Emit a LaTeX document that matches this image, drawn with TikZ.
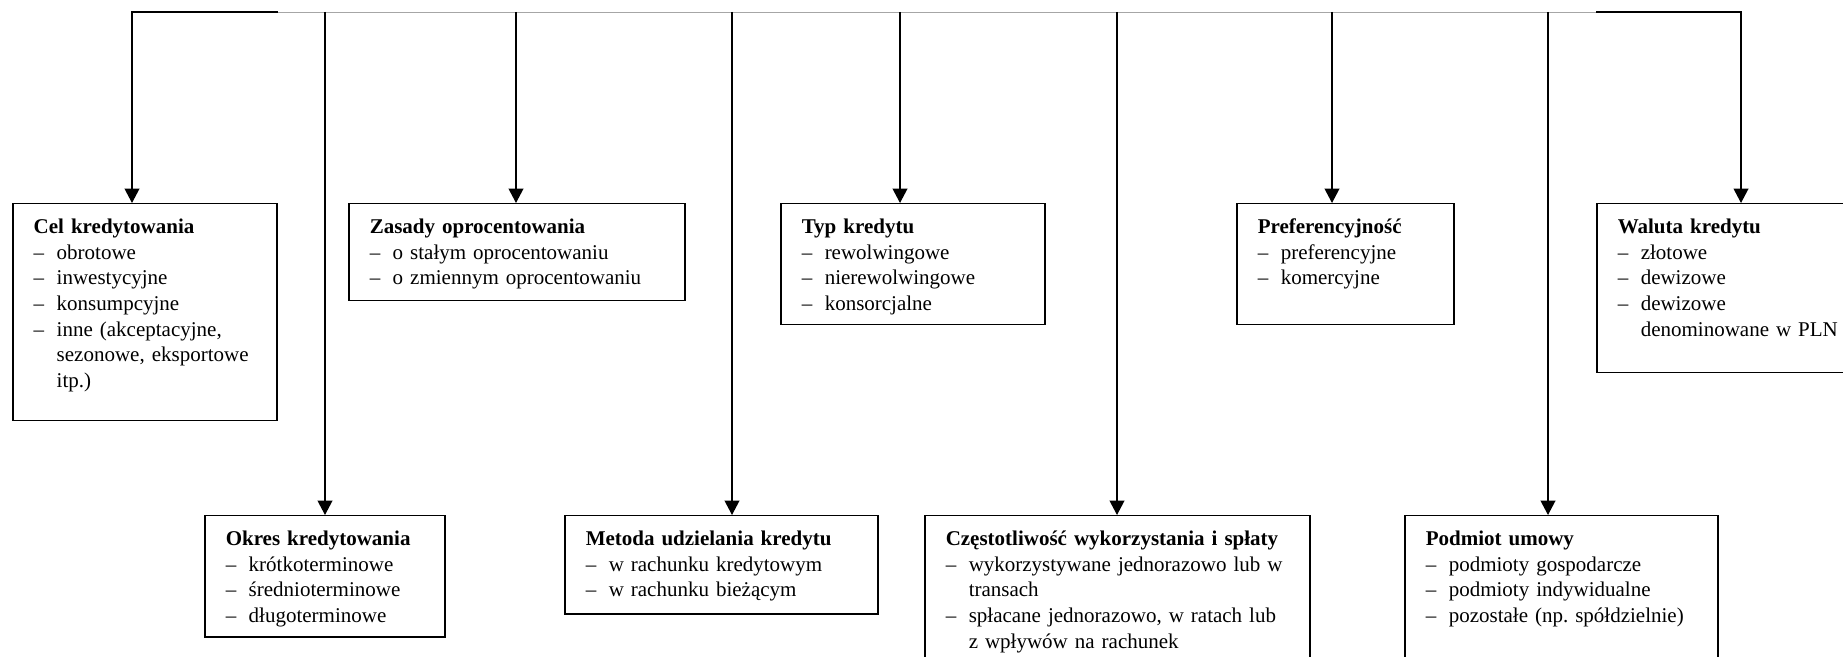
\documentclass[tikz,border=0pt]{standalone}
\usepackage{fontspec}
\setmainfont{Liberation Serif}
\usetikzlibrary{arrows.meta}
\frenchspacing

\newcommand{\itm}[1]{\makebox[11.5pt][l]{–}#1}
\newcommand{\cnt}[1]{\hspace*{11.5pt}#1}

\begin{document}
\begin{tikzpicture}[x=0.5pt, y=-0.5pt]
    \tikzset{
        block/.style 2 args = {rectangle, draw, line width=0.75pt, anchor=north west, inner xsep=10.5pt, inner ysep=0pt, align=left, text width=#1, text height=15pt, text depth=#2, font=\fontsize{10.5pt}{12.8pt}\selectfont},
        line/.style = {draw, line width=0.75pt, -{Triangle[length=7.2pt, width=7.4pt]}}
    }
    \useasboundingbox (0,0) rectangle (1843,657);
    \clip (0,0) rectangle (1843,657);

    % upper row
    \node[block={111pt}{93.5pt}] (cel) at (12,203) {\textbf{Cel kredytowania}\\ \itm{obrotowe}\\ \itm{inwestycyjne}\\ \itm{konsumpcyjne}\\ \itm{inne (akceptacyjne,}\\ \cnt{sezonowe, eksportowe}\\ \cnt{itp.)}};
    \node[block={147pt}{33.5pt}] (zasady) at (348,203) {\textbf{Zasady oprocentowania}\\ \itm{o stałym oprocentowaniu}\\ \itm{o zmiennym oprocentowaniu}};
    \node[block={111pt}{45.5pt}] (typ) at (780,203) {\textbf{Typ kredytu}\\ \itm{rewolwingowe}\\ \itm{nierewolwingowe}\\ \itm{konsorcjalne}};
    \node[block={87.5pt}{45.5pt}] (pref) at (1236,203) {\textbf{Preferencyjność}\\ \itm{preferencyjne}\\ \itm{komercyjne}};
    \node[block={111pt}{69.5pt}] (waluta) at (1596,203) {\textbf{Waluta kredytu}\\ \itm{złotowe}\\ \itm{dewizowe}\\ \itm{dewizowe}\\ \cnt{denominowane w PLN}};

    % lower row
    \node[block={99pt}{45.5pt}] (okres) at (204,515) {\textbf{Okres kredytowania}\\ \itm{krótkoterminowe}\\ \itm{średnioterminowe}\\ \itm{długoterminowe}};
    \node[block={135.5pt}{34pt}] (metoda) at (564,515) {\textbf{Metoda udzielania kredytu}\\ \itm{w rachunku kredytowym}\\ \itm{w rachunku bieżącym}};
    \node[block={171.5pt}{77.5pt}] (czest) at (924,515) {\textbf{Częstotliwość wykorzystania i spłaty}\\ \itm{wykorzystywane jednorazowo lub w}\\ \cnt{transach}\\ \itm{spłacane jednorazowo, w ratach lub}\\ \cnt{z wpływów na rachunek}};
    \node[block={135.5pt}{77.5pt}] (podmiot) at (1404,515) {\textbf{Podmiot umowy}\\ \itm{podmioty gospodarcze}\\ \itm{podmioty indywidualne}\\ \itm{pozostałe (np. spółdzielnie)}};

    % top line
    \coordinate (t-cel) at (132,12);
    \coordinate (t-okres) at (325,12);
    \coordinate (t-zasady) at (516,12);
    \coordinate (t-metoda) at (732,12);
    \coordinate (t-typ) at (900,12);
    \coordinate (t-czest) at (1117,12);
    \coordinate (t-pref) at (1332,12);
    \coordinate (t-podmiot) at (1548,12);
    \coordinate (t-waluta) at (1741,12);

    \draw[line width=0.4pt, black!35] (cel.north east |- t-cel) -- (waluta.north west |- t-cel);
    \path[line] (cel.north east |- t-cel) -- (t-cel) -- (t-cel |- cel.north);
    \path[line] (waluta.north west |- t-waluta) -- (t-waluta) -- (t-waluta |- waluta.north);

    \path[line] (t-okres) -- (t-okres |- okres.north);
    \path[line] (t-zasady) -- (t-zasady |- zasady.north);
    \path[line] (t-metoda) -- (t-metoda |- metoda.north);
    \path[line] (t-typ) -- (t-typ |- typ.north);
    \path[line] (t-czest) -- (t-czest |- czest.north);
    \path[line] (t-pref) -- (t-pref |- pref.north);
    \path[line] (t-podmiot) -- (t-podmiot |- podmiot.north);
\end{tikzpicture}
\end{document}
